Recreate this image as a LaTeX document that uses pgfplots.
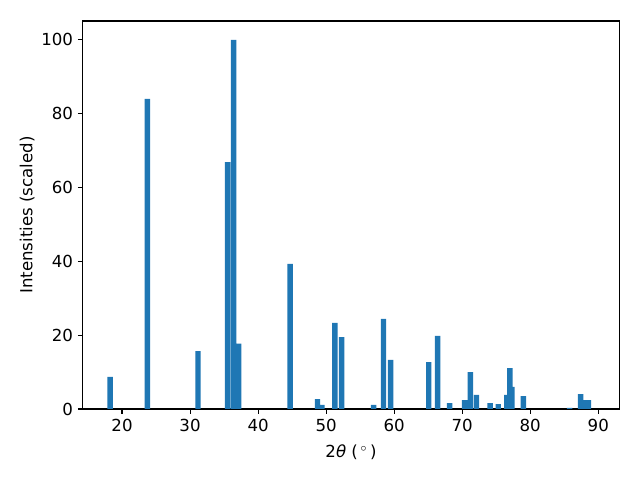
\documentclass[border=0pt]{standalone}
\usepackage{pgfplots}
\pgfplotsset{compat=1.18}
\usepackage{fontspec}
\setmainfont{DejaVu Sans}
\definecolor{tabblue}{HTML}{1F77B4}
\begin{document}
\fontsize{10pt}{12pt}\selectfont
\begin{tikzpicture}
\useasboundingbox (0,0) rectangle (6.4in,4.8in);
\begin{axis}[
  at={(0.827in,0.71in)}, anchor=south west,
  scale only axis, width=5.366in, height=3.88in,
  xmin=14.22, xmax=93.09, ymin=0, ymax=105.1,
  xtick={20,30,40,50,60,70,80,90},
  ytick={0,20,40,60,80,100},
  tick pos=left, tick align=outside,
  major tick length=3.5pt,
  tick style={line width=0.8pt, black},
  axis line style={line width=0.8pt},
  /pgf/number format/assume math mode=true,
  ticklabel style={font=\fontsize{12pt}{14pt}\selectfont},
  label style={font=\fontsize{12pt}{14pt}\selectfont},
  xlabel={2\textit{θ} (\,$^\circ$\,)},
  ylabel={Intensities (scaled)},
  xlabel style={yshift=-3pt},
  ylabel style={yshift=-2pt},
]
\addplot[ybar, bar width=0.8, fill=tabblue, draw=none] coordinates {
(18.24,8.7)
(23.73,84.0)
(31.17,15.7)
(35.51,66.9)
(36.39,100)
(37.13,17.7)
(44.7,39.3)
(48.73,2.7)
(49.38,1.1)
(51.28,23.3)
(52.28,19.5)
(56.98,1.1)
(58.43,24.4)
(59.48,13.3)
(65.08,12.7)
(66.38,19.8)
(68.15,1.6)
(70.35,2.4)
(71.2,10.0)
(72.1,3.8)
(74.1,1.6)
(75.3,1.35)
(76.57,3.8)
(77.0,11.1)
(77.3,6.0)
(79.0,3.5)
(85.8,0.3)
(87.4,4.0)
(87.95,2.4)
(88.55,2.4)
};
\end{axis}
\end{tikzpicture}
\end{document}
